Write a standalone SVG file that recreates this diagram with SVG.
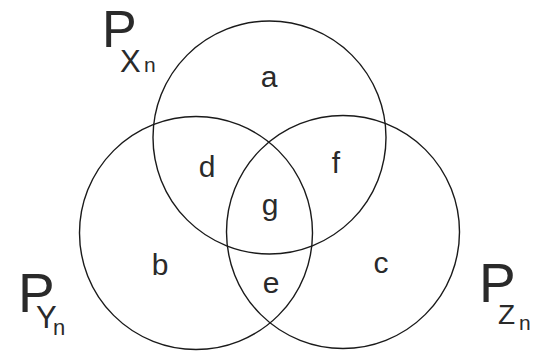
<svg xmlns="http://www.w3.org/2000/svg" width="545" height="351" viewBox="0 0 545 351">
<style>
.ring{fill:none;stroke:#1a1a1a;stroke-width:1.4}
.lbl{font-family:"Liberation Sans",Arial,sans-serif;fill:#2a2a2a;text-anchor:middle;font-size:30px}
.big{font-family:"Liberation Sans",Arial,sans-serif;fill:#2a2a2a}
</style>
<rect width="545" height="351" fill="#fff"/>
<g id="sets">
<g id="circle-x"><circle class="ring" cx="269.5" cy="137.5" r="116.5"/></g>
<g id="circle-y"><circle class="ring" cx="196" cy="233" r="116.5"/></g>
<g id="circle-z"><circle class="ring" cx="343" cy="232" r="116.5"/></g>
</g>
<g id="connectors"></g>
<g id="regions">
<text class="lbl" x="269" y="87">a</text>
<text class="lbl" x="160" y="275">b</text>
<text class="lbl" x="381" y="273">c</text>
<text class="lbl" x="207" y="177">d</text>
<text class="lbl" x="271" y="293">e</text>
<text class="lbl" x="336" y="173">f</text>
<text class="lbl" x="270" y="215">g</text>
</g>
<g id="label-x"><text class="big"><tspan x="102" y="47" font-size="52">P</tspan><tspan x="120" y="72" font-size="31">X</tspan><tspan x="144" y="72" font-size="21">n</tspan></text></g>
<g id="label-y"><text class="big"><tspan x="18" y="312" font-size="55">P</tspan><tspan x="36" y="328" font-size="31">Y</tspan><tspan x="53" y="335" font-size="22">n</tspan></text></g>
<g id="label-z"><text class="big"><tspan x="479" y="302" font-size="55">P</tspan><tspan x="498" y="324" font-size="28">Z</tspan><tspan x="519" y="330" font-size="21">n</tspan></text></g>
</svg>
